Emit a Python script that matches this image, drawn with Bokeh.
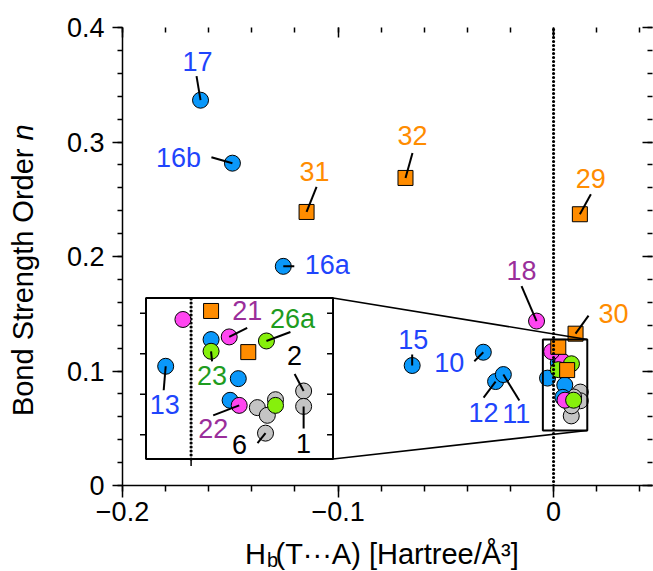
import numpy as np
from bokeh.plotting import figure
from bokeh.layouts import row, column
from bokeh.models import (FixedTicker, LinearAxis, Range1d,
                          CustomJSTickFormatter, ColumnDataSource)
from bokeh.core.properties import value
from bokeh.embed import file_html
from bokeh.resources import INLINE

FONT = "Liberation Sans"

# ---------------- data ----------------
blue_labels = ["17", "16b", "16a", "15", "10", "12", "11", "13", "", "", ""]
blue_x = [-0.1638, -0.1490, -0.1254, -0.0656, -0.0326, -0.0269, -0.0233, -0.0028, 0.0022, 0.0052, 0.0043]
blue_y = [0.3365, 0.2815, 0.1914, 0.1048, 0.1164, 0.0908, 0.0969, 0.0938, 0.1070, 0.0877, 0.0770]

magenta_labels = ["18", "21", "22", ""]
magenta_x = [-0.0079, 0.0042, 0.0053, -0.0009]
magenta_y = [0.1436, 0.1083, 0.0745, 0.1169]

green_labels = ["26a", "23", ""]
green_x = [0.0083, 0.0022, 0.0093]
green_y = [0.1063, 0.1012, 0.0745]

orange_labels = ["31", "32", "29", "30", "", ""]
orange_x = [-0.1146, -0.0687, 0.0122, 0.0102, 0.0022, 0.0063]
orange_y = [0.2389, 0.2686, 0.2369, 0.1326, 0.1211, 0.1008]

grey_labels = ["2", "1", "6", "", "", ""]
grey_x = [0.0124, 0.0124, 0.0082, 0.0073, 0.0084, 0.0093]
grey_y = [0.0816, 0.0740, 0.0608, 0.0734, 0.0696, 0.0773]

x_major = [-0.2, -0.1, 0.0]
y_major = [0.0, 0.1, 0.2, 0.3, 0.4]
inset_y_ticks = [0.06, 0.08, 0.10, 0.12]

x_title_parts = ["H", "b", "(T\u00b7\u00b7\u00b7A) [Hartree/\u00c5\u00b3]"]
y_title_parts = ["Bond Strength Order", "n"]

# ---------------- layout / style ----------------
X0, X1 = -0.2, 0.0459
Y0, Y1 = 0.0, 0.4
FW, FH = 530, 458
SX = FW / (X1 - X0)
SY = FH / (Y1 - Y0)
BASE_SHIFT = 0.37  # em: text anchor sits this far above the drawn baseline

RX0, RX1, RY0, RY1 = -0.00497, 0.01564, 0.04803, 0.12751
IX0, IX1, IY0, IY1 = -0.18910, -0.10232, 0.02314, 0.16376
KX = (IX1 - IX0) / (RX1 - RX0)
KY = (IY1 - IY0) / (RY1 - RY0)


def to_inset(x, y):
    return IX0 + (x - RX0) * KX, IY0 + (y - RY0) * KY


BLUE_FILL, BLUE_TXT = "#0A98FA", "#1F45FC"
MAG_FILL, MAG_TXT = "#FF45F0", "#9A2E9A"
GRN_FILL, GRN_TXT = "#86F00C", "#1E9C1E"
ORG_FILL, ORG_TXT = "#FF8C00", "#FF8C00"
GRY_FILL, GRY_TXT = "#C4C4C4", "#000000"

label_offsets = {
    "17": (-3, -39, -4, -24), "16b": (-54, -5, -21, -6), "16a": (44, -1, 11, 0),
    "31": (8, -40, 10, -25), "32": (7, -42, 7, -25), "29": (11, -36, 11, -20),
    "18": (-15, -51, -15, -35), "30": (38, -20, 13, -18), "15": (1, -26, 0, -11),
    "10": (-34, 10, -9, 9), "12": (-12, 31, -12, 16), "11": (13, 39, 16, 26),
    "21": (18, -26, 18, -9), "26a": (26, -22, 24, -9), "23": (1, 24, 1, 10),
    "13": (-1, 38, -2, 24), "22": (-26, 23, -26, 10), "6": (-26, 11, -8, 10),
    "2": (-9, -35, -9, -17), "1": (0, 37, 0, 22),
}

groups = [
    (grey_x, grey_y, grey_labels, GRY_FILL, GRY_TXT, "circle", 16),
    (blue_x, blue_y, blue_labels, BLUE_FILL, BLUE_TXT, "circle", 16),
    (magenta_x, magenta_y, magenta_labels, MAG_FILL, MAG_TXT, "circle", 16),
    (green_x, green_y, green_labels, GRN_FILL, GRN_TXT, "circle", 16),
    (orange_x, orange_y, orange_labels, ORG_FILL, ORG_TXT, "square", 15),
]

LEFT_W = 50
MAIN_H = 533
p = figure(frame_width=FW, frame_height=FH,
           x_range=Range1d(X0, X1), y_range=Range1d(Y0, Y1),
           output_backend="svg", toolbar_location=None,
           min_border_left=122 - LEFT_W, min_border_right=1,
           min_border_top=27, min_border_bottom=MAIN_H - 27 - FH)
p.xgrid.visible = False
p.ygrid.visible = False
p.outline_line_color = None
p.background_fill_color = "white"
p.border_fill_color = "white"

x_minor = list(np.round(np.arange(-0.2, X1, 0.02), 3))
y_minor = list(np.round(np.arange(0.0, 0.4001, 0.02), 3))

xa = p.xaxis[0]
xa.ticker = FixedTicker(ticks=x_major, minor_ticks=x_minor)
xa.formatter = CustomJSTickFormatter(
    code="return tick < 0 ? '\u2212' + (-tick).toFixed(1) : (tick == 0 ? '0' : tick.toFixed(1));")
ya = p.yaxis[0]
ya.ticker = FixedTicker(ticks=y_major, minor_ticks=y_minor)
ya.formatter = CustomJSTickFormatter(code="return tick == 0 ? '0' : tick.toFixed(1);")
for ax in (xa, ya):
    ax.axis_line_width = 1.5
    ax.axis_line_color = "black"
    ax.major_tick_line_width = 1.5
    ax.minor_tick_line_width = 1.5
    ax.major_tick_line_color = "black"
    ax.minor_tick_line_color = "black"
    ax.major_tick_in = 0
    ax.minor_tick_in = 0
    ax.major_label_text_font = FONT
    ax.major_label_text_font_size = "27px"
    ax.major_label_text_color = "black"
xa.major_tick_out = 12
xa.minor_tick_out = 6
xa.major_label_standoff = 4
ya.major_tick_out = 10
ya.minor_tick_out = 5
ya.major_label_standoff = 8

blank = CustomJSTickFormatter(code="return '';")
top = LinearAxis(ticker=FixedTicker(ticks=x_major, minor_ticks=x_minor), formatter=blank,
                 axis_line_color=None, major_tick_in=10, major_tick_out=0,
                 minor_tick_in=5, minor_tick_out=0, major_label_standoff=0,
                 major_tick_line_width=1.5, minor_tick_line_width=1.5)
right = LinearAxis(ticker=FixedTicker(ticks=y_major, minor_ticks=y_minor), formatter=blank,
                   axis_line_color=None, major_tick_in=10, major_tick_out=0,
                   minor_tick_in=5, minor_tick_out=0, major_label_standoff=0,
                   major_tick_line_width=1.5, minor_tick_line_width=1.5)
p.add_layout(top, "above")
p.add_layout(right, "right")

for gx, gy, gl, fill, tcol, mk, sz in groups:
    p.scatter(gx, gy, marker=mk, size=sz, fill_color=fill, line_color="black", line_width=1)

p.segment(x0=[0], y0=[Y0], x1=[0], y1=[Y1], line_color="black", line_width=3.2,
          line_dash="0 4", line_cap="round")
p.quad(left=[RX0], right=[RX1], bottom=[RY0], top=[RY1], fill_color=None,
       line_color="black", line_width=2)

p.segment(x0=[IX1, IX1], y0=[IY1, IY0], x1=[RX1, RX1], y1=[RY1, RY0],
          line_color="black", line_width=1.6)

p.quad(left=[IX0], right=[IX1], bottom=[IY0], top=[IY1], fill_color="white",
       line_color="black", line_width=2)
zx, _ = to_inset(0.0, RY0)
p.segment(x0=[zx], y0=[IY0], x1=[zx], y1=[IY1], line_color="black", line_width=3.2,
          line_dash="0 4", line_cap="round")
ity = [to_inset(RX0, v)[1] for v in inset_y_ticks]
p.segment(x0=[IX0 - 6 / SX] * len(ity), y0=ity, x1=[IX0] * len(ity), y1=ity,
          line_color="black", line_width=1.5)
p.segment(x0=[IX1 - 6 / SX] * len(ity), y0=ity, x1=[IX1] * len(ity), y1=ity,
          line_color="black", line_width=1.5)
p.segment(x0=[zx], y0=[IY0 - 7 / SY], x1=[zx], y1=[IY0], line_color="black", line_width=1.5)

lab_x, lab_y, lab_t, lab_c = [], [], [], []
ld_x0, ld_y0, ld_x1, ld_y1 = [], [], [], []
for gx, gy, gl, fill, tcol, mk, sz in groups:
    ix, iy = [], []
    for x, y, t in zip(gx, gy, gl):
        inside = RX0 <= x <= RX1 and RY0 <= y <= RY1
        if inside:
            px, py = to_inset(x, y)
            ix.append(px)
            iy.append(py)
        else:
            px, py = x, y
        if t:
            dx, dy, lx, ly = label_offsets[t]
            lab_x.append(px + dx / SX)
            lab_y.append(py - dy / SY)
            lab_t.append(t)
            lab_c.append(tcol)
            ld_x0.append(px + lx / SX)
            ld_y0.append(py - ly / SY)
            ld_x1.append(px)
            ld_y1.append(py)
    if ix:
        p.scatter(ix, iy, marker=mk, size=sz, fill_color=fill, line_color="black", line_width=1)

p.segment(x0=ld_x0, y0=ld_y0, x1=ld_x1, y1=ld_y1, line_color="black", line_width=2)
src = ColumnDataSource(dict(x=lab_x, y=lab_y, t=lab_t, c=lab_c))
p.text(x="x", y="y", text="t", text_color="c", source=src, text_font=value(FONT),
       text_font_size=value("27px"), text_align="center", text_baseline="alphabetic")


def strip(w, h):
    f = figure(frame_width=w, frame_height=h, x_range=Range1d(0, w), y_range=Range1d(0, h),
               x_axis_type=None, y_axis_type=None, output_backend="svg",
               toolbar_location=None, min_border=0, min_border_left=0,
               min_border_right=0, min_border_top=0, min_border_bottom=0)
    f.outline_line_color = None
    f.background_fill_color = "white"
    f.border_fill_color = "white"
    return f


# y title strip (left); canvas row coordinates measured from top
left = strip(LEFT_W, MAIN_H)
fs_y = 29
bx = 33.5 - BASE_SHIFT * fs_y
left.text(x=[bx], y=[MAIN_H - 121], text=[y_title_parts[0]], angle=np.pi / 2,
          text_font=value(FONT), text_font_size=value(f"{fs_y}px"), text_color="black",
          text_align="right", text_baseline="alphabetic")
left.text(x=[bx], y=[MAIN_H - 113], text=[y_title_parts[1]], angle=np.pi / 2,
          text_font=value(FONT), text_font_size=value(f"{fs_y}px"), text_font_style="italic",
          text_color="black", text_align="left", text_baseline="alphabetic")

# x title strip (bottom)
BOT_H = 571 - MAIN_H
bottom = strip(653, BOT_H)
fs_x, fs_sub = 29, 20
base_main = 564.5
base_sub = 566.5
bottom.text(x=[265.5], y=[571 - base_main + BASE_SHIFT * fs_x], text=[x_title_parts[0]],
            text_font=value(FONT), text_font_size=value(f"{fs_x}px"), text_color="black",
            text_align="right", text_baseline="alphabetic")
bottom.text(x=[266.5], y=[571 - base_sub + BASE_SHIFT * fs_sub], text=[x_title_parts[1]],
            text_font=value(FONT), text_font_size=value(f"{fs_sub}px"), text_color="black",
            text_align="left", text_baseline="alphabetic")
bottom.text(x=[275], y=[571 - base_main + BASE_SHIFT * fs_x], text=[x_title_parts[2]],
            text_font=value(FONT), text_font_size=value(f"{fs_x}px"), text_color="black",
            text_align="left", text_baseline="alphabetic")

layout = column(row(left, p, spacing=0), bottom, spacing=0)
open("out.html", "w").write(file_html(layout, INLINE))
